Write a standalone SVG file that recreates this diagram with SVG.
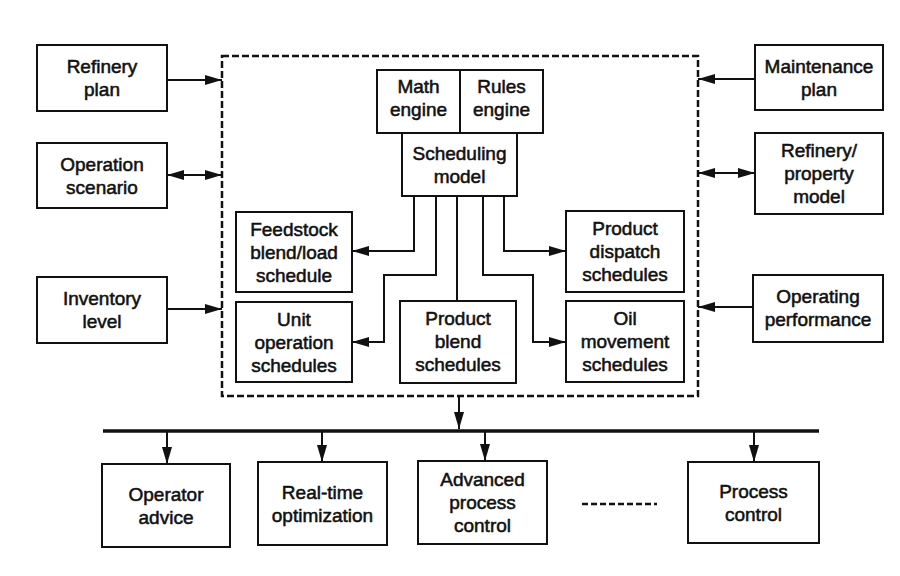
<svg xmlns="http://www.w3.org/2000/svg" width="900" height="576" viewBox="0 0 900 576">
<defs>
<style>
.box{fill:#fff;stroke:#111;stroke-width:2}
.ln{fill:none;stroke:#111;stroke-width:2}
.arr{marker-end:url(#ah)}
.dbl{marker-end:url(#ah);marker-start:url(#ah)}
text{font-family:"Liberation Sans",Arial,sans-serif;font-size:19px;fill:#111;text-anchor:middle;stroke:#111;stroke-width:0.55}
</style>
<marker id="ah" markerUnits="userSpaceOnUse" markerWidth="18" markerHeight="11" refX="17" refY="5" orient="auto-start-reverse">
<path d="M0,0 L17,5 L0,10 z" fill="#111"/>
</marker>
</defs>
<rect width="900" height="576" fill="#fff"/>

<g id="connectors">
<rect x="222" y="56" width="476" height="340" fill="none" stroke="#111" stroke-width="2.5" stroke-dasharray="7,3"/>
<path class="ln arr" d="M167,80 H222"/>
<path class="ln dbl" d="M167,175 H222"/>
<path class="ln arr" d="M167,309 H222"/>
<path class="ln arr" d="M755,79 H698"/>
<path class="ln dbl" d="M698,173 H755"/>
<path class="ln arr" d="M753,307 H698"/>
<path class="ln arr" d="M414,196 V251 H352"/>
<path class="ln arr" d="M436,196 V275 H384 V342 H352"/>
<path class="ln" d="M457,196 V301"/>
<path class="ln arr" d="M483,196 V275 H533 V342 H566"/>
<path class="ln arr" d="M504,196 V251 H566"/>
<path class="ln arr" d="M459,396 V429"/>
<path d="M103,431 H819" stroke="#111" stroke-width="3.5" fill="none"/>
<path class="ln arr" d="M167,431 V464"/>
<path class="ln arr" d="M322,431 V462"/>
<path class="ln arr" d="M485,431 V461"/>
<path class="ln arr" d="M754,431 V462"/>
<path d="M582,504 H657" stroke="#111" stroke-width="2.5" stroke-dasharray="6,3" fill="none"/>
</g>

<g id="refinery-plan"><rect class="box" x="37" y="45" width="130" height="66"/><text x="102" y="73">Refinery</text><text x="102" y="96">plan</text></g>
<g id="operation-scenario"><rect class="box" x="37" y="143" width="130" height="65"/><text x="102" y="171">Operation</text><text x="102" y="194">scenario</text></g>
<g id="inventory-level"><rect class="box" x="37" y="277" width="130" height="66"/><text x="102" y="305">Inventory</text><text x="102" y="328">level</text></g>

<g id="maintenance-plan"><rect class="box" x="755" y="45" width="128" height="65"/><text x="819" y="73">Maintenance</text><text x="819" y="96">plan</text></g>
<g id="refinery-property-model"><rect class="box" x="755" y="133" width="128" height="81"/><text x="819" y="157">Refinery/</text><text x="819" y="180">property</text><text x="819" y="203">model</text></g>
<g id="operating-performance"><rect class="box" x="753" y="275" width="130" height="67"/><text x="818" y="303">Operating</text><text x="818" y="326">performance</text></g>

<g id="math-rules-engine"><rect class="box" x="377" y="70" width="166" height="63"/><path class="ln" d="M460,70 V133"/><text x="418.5" y="93">Math</text><text x="418.5" y="116">engine</text><text x="501.5" y="93">Rules</text><text x="501.5" y="116">engine</text></g>
<g id="scheduling-model"><rect class="box" x="402" y="133" width="115" height="63"/><text x="459.5" y="160">Scheduling</text><text x="459.5" y="183">model</text></g>

<g id="feedstock"><rect class="box" x="236" y="212" width="116" height="80"/><text x="294" y="236">Feedstock</text><text x="294" y="259">blend/load</text><text x="294" y="282">schedule</text></g>
<g id="unit-operation"><rect class="box" x="236" y="302" width="116" height="80"/><text x="294" y="326">Unit</text><text x="294" y="349">operation</text><text x="294" y="372">schedules</text></g>
<g id="product-blend"><rect class="box" x="400" y="301" width="116" height="82"/><text x="458" y="325">Product</text><text x="458" y="348">blend</text><text x="458" y="371">schedules</text></g>
<g id="product-dispatch"><rect class="box" x="566" y="211" width="118" height="81"/><text x="625" y="235">Product</text><text x="625" y="258">dispatch</text><text x="625" y="281">schedules</text></g>
<g id="oil-movement"><rect class="box" x="566" y="301" width="118" height="81"/><text x="625" y="325">Oil</text><text x="625" y="348">movement</text><text x="625" y="371">schedules</text></g>

<g id="operator-advice"><rect class="box" x="102" y="464" width="128" height="83"/><text x="166" y="501">Operator</text><text x="166" y="524">advice</text></g>
<g id="real-time-optimization"><rect class="box" x="258" y="462" width="129" height="83"/><text x="322.5" y="499">Real-time</text><text x="322.5" y="522">optimization</text></g>
<g id="advanced-process-control"><rect class="box" x="418" y="461" width="129" height="83"/><text x="482.5" y="486">Advanced</text><text x="482.5" y="509">process</text><text x="482.5" y="532">control</text></g>
<g id="process-control"><rect class="box" x="688" y="462" width="131" height="81"/><text x="753.5" y="498">Process</text><text x="753.5" y="521">control</text></g>
</svg>
